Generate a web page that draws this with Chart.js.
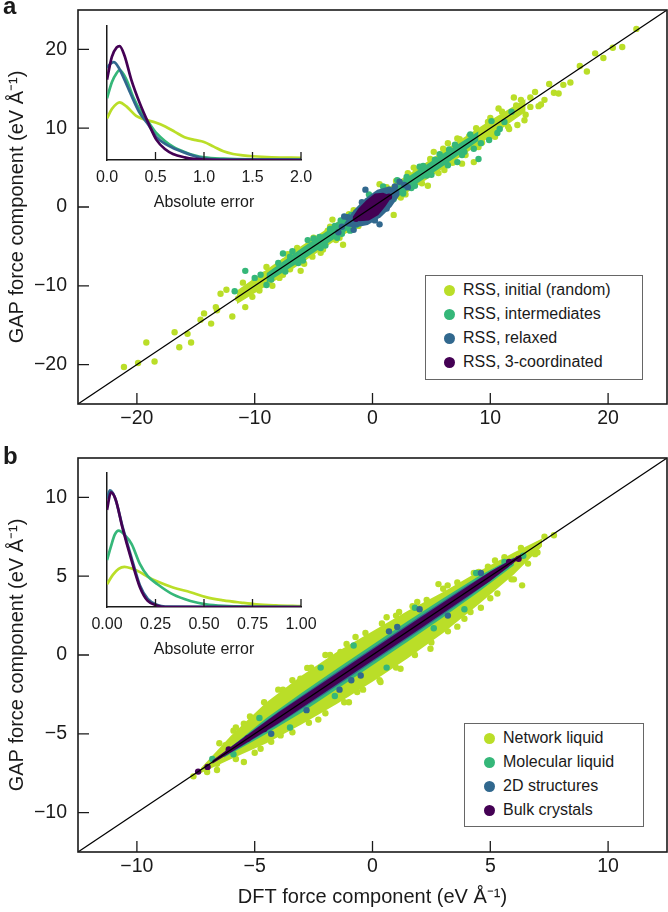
<!DOCTYPE html>
<html>
<head>
<meta charset="utf-8">
<script src="https://cdn.jsdelivr.net/npm/chart.js@4.4.0/dist/chart.umd.min.js"></script>
<style>
body{margin:0;background:#fff;font-family:"Liberation Sans",Arial,sans-serif;color:#1a1a1a}
#wrap{position:relative;width:668px;height:912px;overflow:hidden;background:#fff}
canvas{position:absolute}
.lbl{position:absolute;font-weight:bold;font-size:24px;line-height:1}
.legend{position:absolute;border:1.2px solid #666;background:#fff;font-size:16px}
.legend div{position:absolute;white-space:nowrap;line-height:18px}
.legend span{position:absolute;width:11px;height:11px;border-radius:50%}
</style>
</head>
<body>
<div id="wrap">
  <canvas id="ca" width="679" height="455" style="left:0;top:-15px"></canvas>
  <canvas id="cb" width="679" height="479" style="left:0;top:433px"></canvas>
  <canvas id="ia" width="250" height="200" style="left:80px;top:16px"></canvas>
  <canvas id="ib" width="250" height="200" style="left:80px;top:463px"></canvas>
  <div class="lbl" style="left:3px;top:-6px">a</div>
  <div class="lbl" style="left:3px;top:444px">b</div>
  <div class="legend" id="legA" style="left:425px;top:275px;width:216px;height:103px"></div>
  <div class="legend" id="legB" style="left:464px;top:723px;width:178px;height:102px"></div>
</div>
<script>
// NAMES / COLOURS / TICKS
const namesA=["RSS, initial (random)","RSS, intermediates","RSS, relaxed","RSS, 3-coordinated"];
const namesB=["Network liquid","Molecular liquid","2D structures","Bulk crystals"];
const colors=["#bade28","#35b779","#31688e","#440154"];
const ticksA=[-20,-10,0,10,20];
const ticksB=[-10,-5,0,5,10];
const insetTicksA=[0,0.5,1,1.5,2];
const insetTicksB=[0,0.25,0.5,0.75,1];
const diagA=[-25,25];
const diagB=[-12.5,12.5];

// PANEL A : scatter (DFT, GAP)
const aInitialPts=[[-21.1,-20.3],[-19.9,-19.8],[-18.5,-19.6],[-19.2,-17.2],[-16.8,-15.9],[-15.7,-16.1],[-16.4,-17.8],[-15.4,-17.2],[-14.6,-14.3],[-14.3,-13.5],[-13.7,-14.8],[-13.3,-12.7],[-13.2,-13.1],[-11.9,-13.9],[-12.4,-10.5],[-12.9,-11.0],[-11.4,-11.6],[-10.8,-12.7],[-10.5,-10.2],[-10.0,-9.4],[-9.6,-10.6],[-9.2,-8.6],[-8.8,-9.5],[-8.3,-7.9],[-7.9,-9.0],[-7.5,-6.9],[-7.0,-7.9],[-6.6,-6.0],[-6.1,-8.1],[-6.0,-7.0],[-5.5,-5.2],[-5.1,-6.3],[-4.6,-4.1],[-4.2,-5.4],[-3.4,-1.6],[-3.1,-4.2],[-2.5,-4.8],[-3.8,-3.0],[-2.2,-2.9],[-1.6,-0.4],[1.8,-1.0],[0.6,2.9],[2.4,1.2],[3.0,4.3],[3.7,4.5],[4.7,2.7],[5.2,7.0],[6.1,4.7],[6.4,8.1],[7.2,8.7],[7.6,5.5],[8.6,5.7],[8.2,9.0],[9.3,8.2],[9.8,10.8],[10.2,9.1],[10.7,12.5],[11.5,10.2],[12.0,13.9],[12.2,12.9],[12.3,10.4],[12.9,11.0],[13.4,13.9],[13.4,12.7],[14.1,12.8],[14.6,13.6],[15.4,14.5],[16.2,15.5],[16.8,15.8],[17.6,17.9],[18.2,17.2],[18.9,19.5],[19.6,18.9],[20.4,20.2],[21.2,20.3],[22.4,22.6],
  [-11.0,-9.6],[-10.2,-11.4],[-9.0,-7.6],[-8.5,-10.0],[-7.6,-8.6],[-7.2,-6.0],[-6.4,-5.2],[-5.8,-7.2],[-5.0,-3.9],[-4.4,-5.8],[-3.6,-2.5],[-2.8,-3.9],[-2.0,-0.9],[-1.2,-2.4],[0.8,-0.4],[1.2,2.5],[2.0,3.3],[2.8,1.6],[3.5,5.0],[4.2,3.0],[4.9,6.1],[5.6,4.3],[6.0,7.4],[6.8,5.6],[7.4,8.6],[7.9,6.6],[8.8,10.0],[9.0,7.6],[10.0,11.3],[10.4,8.9],[11.0,12.1],[11.6,9.9],[12.6,13.6],[13.0,11.7],[13.8,14.6],[14.3,13.0],[15.0,15.6],[15.8,14.4]];
const aInitialUpper=[[-11.5,-10.6],[-8,-6.9],[-5,-3.9],[-2,-0.9],[1,2.1],[4,5.1],[7,8.1],[10,11.0],[13,13.7]];
const aInitialLower=[[-11.5,-12.3],[-8,-9.1],[-5,-6.1],[-2,-3.1],[1,-0.1],[4,2.9],[7,5.9],[10,8.9],[13,12.1]];
const aInterPts=[[-11.7,-10.7],[-10.8,-8.1],[-9.5,-8.6],[-8.6,-9.2],[-7.6,-5.9],[-7.0,-6.3],[-6.3,-7.1],[-5.5,-4.2],[-4.5,-3.8],[-4.0,-4.9],[-3.2,-2.4],[-2.6,-3.4],[-1.8,-1.0],[1.4,2.2],[2.1,3.4],[2.6,1.9],[3.3,2.4],[4.0,5.1],[4.6,4.0],[5.3,6.0],[6.2,5.7],[6.5,7.3],[7.2,5.7],[7.8,7.0],[8.6,7.4],[9.0,6.1],[9.9,8.5],[10.6,9.4],[11.2,10.8],
  [-10.0,-9.0],[-9.0,-9.9],[-8.0,-7.1],[-7.4,-8.2],[-6.8,-5.6],[-5.9,-6.8],[-5.0,-4.0],[-4.4,-5.2],[-3.6,-2.8],[-3.0,-3.9],[-2.3,-1.5],[-1.4,-2.3],[1.0,1.8],[1.8,1.0],[2.9,3.8],[3.6,2.7],[4.3,5.2],[5.0,4.1],[5.7,6.7],[6.4,5.3],[7.0,7.9],[7.6,6.6],[8.3,9.2],[9.2,8.1],[10.1,10.9],[10.8,9.9],[11.8,12.1],
  [-2.7,-1.7],[-2.9,-2.3],[2.9,3.5],[2.6,1.7],[-1.9,-3.0],[0.9,2.6],[-0.3,1.6],[-3.3,-3.2]];
const aInterUpper=[[-9,-8.4],[-6,-5.2],[-3,-2.2],[0,0.8],[3,3.8],[6,6.8],[9,9.6]];
const aInterLower=[[-9,-9.6],[-6,-6.8],[-3,-3.8],[0,-0.8],[3,2.2],[6,5.2],[9,8.4]];
const aRelaxedPts=[[-0.6,2.2],[0.6,-2.2],[-2.6,-2.5],[2.7,2.8],[-2.1,-1.3],[1.9,2.6],[-2.9,-3.2],[-1.6,-2.9],[-2.4,-1.2],[2.3,3.2],[1.2,-0.2],[3.0,2.5],[-0.9,0.6],[0.2,-1.7]];
const aRelaxedUpper=[[-2.4,-2.1],[-1.6,-0.4],[-0.6,1.1],[0.4,2.2],[1.4,2.6],[2.3,2.2]];
const aRelaxedLower=[[-2.4,-2.4],[-1.5,-2.6],[-0.4,-2.3],[0.7,-1.3],[1.6,0.0],[2.3,1.5]];
const a3coordPts=[[-1.4,-1.5],[1.4,1.3]];
const a3coordUpper=[[-1.7,-1.3],[-1.2,-0.2],[-0.5,0.9],[0.2,1.7],[0.9,1.8],[1.6,1.4]];
const a3coordLower=[[-1.7,-1.3],[-1.1,-1.8],[-0.3,-1.7],[0.5,-1.0],[1.1,0.1],[1.6,1.2]];

// PANEL B : scatter
const bNetworkPts=[[6.35,4.42],[5.43,5.79],[4.51,5.27],[3.19,4.42],[4.16,2.73],[2.46,0.40],[2.04,0.82],[1.13,2.73],[1.9,3.36],[-0.72,1.14],[-1.36,0.19],[-2.77,-0.82],[-3.06,-1.5],[-4.75,-3.72],[-5.46,-4.36],[-6.24,-5.73],[-7.02,-7.42],[-0.65,-2.35],[0.34,-1.71],[1.19,-0.87],[-4.75,-5.95],[-3.9,-5.1],[-5.46,-6.79],[7.3,7.5],[7.7,7.6],[6.6,6.4],[5.9,4.8],[3.6,1.8],[2.8,4.5],[-2.0,0.0],[-3.8,-2.2],[0.6,2.4],[-1.0,-3.0],[-2.3,-4.1],[5.0,3.6],[-5.9,-4.8],[-6.6,-6.9],[5.2,6.0],[6.9,6.4],[-7.6,-7.7],
  [-6.5,-5.6],[-5.8,-4.6],[-5.2,-3.9],[-4.6,-3.0],[-4.0,-2.2],[-3.4,-1.6],[-2.6,-0.8],[-1.8,0.0],[-1.1,0.7],[-0.3,1.4],[0.4,2.0],[1.0,2.5],[1.7,3.1],[2.3,3.5],[3.0,4.2],[3.6,4.6],[4.3,5.2],[4.9,5.6],[5.6,6.2],[6.3,6.8],
  [-6.6,-7.3],[-5.8,-6.6],[-5.0,-6.2],[-4.3,-5.5],[-3.4,-4.9],[-2.7,-4.3],[-2.0,-3.7],[-1.2,-3.0],[-0.4,-2.2],[0.3,-1.6],[1.0,-0.8],[1.8,0.0],[2.5,0.8],[3.2,1.5],[3.9,2.3],[4.6,3.0],[5.3,3.9],[6.0,4.8],[6.6,5.8],[7.0,6.5]];
const bNetworkUpper=[[-7.3,-7.2],[-6,-5.1],[-4.5,-3.0],[-3,-1.3],[-1.5,0.2],[0,1.5],[1.5,2.8],[3,4.0],[4.5,5.3],[6,6.5],[7.2,7.4]];
const bNetworkLower=[[-7.3,-7.5],[-6,-6.6],[-4.5,-5.6],[-3,-4.4],[-1.5,-3.1],[0,-1.7],[1.5,-0.2],[3,1.4],[4.5,3.2],[6,5.1],[7.2,6.9]];
const bMolecularPts=[[-6.8,-6.6],[-5.9,-6.3],[5.6,5.9],[6.4,6.3],[-2.2,-0.8],[1.8,3.0],[0.6,-0.8],[-3.5,-4.6],[3.9,2.9],[-0.8,0.6],[-4.8,-4.0],[2.6,1.7],[-1.6,-2.6],[4.4,5.2]];
const bMolecularUpper=[[-6.3,-6.2],[-4.5,-4.0],[-3,-2.4],[-1.5,-0.85],[0,0.65],[1.5,2.15],[3,3.6],[4.5,5.0],[6,6.2]];
const bMolecularLower=[[-6.3,-6.5],[-4.5,-5.0],[-3,-3.65],[-1.5,-2.15],[0,-0.65],[1.5,0.85],[3,2.4],[4.5,4.0],[6,5.7]];
const b2dPts=[[1.05,1.78],[0.7,1.5],[-0.5,-1.3],[-0.9,-1.6],[-1.4,-2.2],[2.0,2.9],[-2.8,-3.5],[3.2,2.5],[-4.3,-5.0],[4.6,5.2]];
const b2dUpper=[[-6,-5.8],[-4,-3.6],[-2,-1.55],[0,0.45],[2,2.45],[4,4.4],[5.8,6.0]];
const b2dLower=[[-6,-6.2],[-4,-4.4],[-2,-2.45],[0,-0.45],[2,1.55],[4,3.6],[5.8,5.6]];
const bBulkPts=[[-7.0,-7.1],[-6.1,-6.0],[-5.3,-5.3],[-4.6,-4.7],[5.8,5.9],[6.2,6.1],[-7.4,-7.4]];
const bBulkUpper=[[-6.8,-6.7],[-4,-3.65],[-1,-0.65],[2,2.35],[5,5.3],[6.3,6.4]];
const bBulkLower=[[-6.8,-6.9],[-4,-4.35],[-1,-1.35],[2,1.65],[5,4.7],[6.3,6.2]];

// INSETS : absolute error distributions
const aErrInitial=[[0,0.31],[0.05,0.38],[0.1,0.42],[0.13,0.43],[0.2,0.4],[0.3,0.33],[0.4,0.3],[0.5,0.28],[0.6,0.25],[0.7,0.21],[0.8,0.17],[0.9,0.15],[1.0,0.135],[1.1,0.1],[1.2,0.065],[1.3,0.045],[1.4,0.035],[1.5,0.028],[1.7,0.02],[2.0,0.016]];
const aErrInter=[[0,0.46],[0.05,0.58],[0.1,0.65],[0.13,0.67],[0.2,0.6],[0.27,0.47],[0.35,0.36],[0.43,0.28],[0.51,0.2],[0.6,0.14],[0.68,0.1],[0.8,0.06],[0.9,0.035],[1.0,0.02],[1.2,0.01],[1.5,0.005],[2.0,0.004]];
const aErrRelaxed=[[0,0.69],[0.04,0.72],[0.07,0.73],[0.12,0.69],[0.18,0.6],[0.24,0.5],[0.33,0.36],[0.43,0.26],[0.51,0.17],[0.6,0.12],[0.68,0.09],[0.8,0.055],[0.9,0.03],[1.0,0.012],[1.2,0.004],[2.0,0.002]];
const aErr3coord=[[0,0.6],[0.05,0.77],[0.1,0.84],[0.13,0.85],[0.18,0.78],[0.25,0.6],[0.34,0.42],[0.43,0.27],[0.51,0.15],[0.6,0.08],[0.68,0.045],[0.8,0.02],[0.9,0.008],[1.0,0.003],[1.2,0],[2.0,0]];
const bErrNetwork=[[0,0.17],[0.03,0.24],[0.06,0.285],[0.09,0.3],[0.13,0.285],[0.17,0.26],[0.21,0.225],[0.26,0.19],[0.34,0.146],[0.43,0.11],[0.51,0.074],[0.6,0.05],[0.69,0.033],[0.77,0.02],[0.87,0.012],[1.0,0.006]];
const bErrMolecular=[[0,0.35],[0.02,0.45],[0.04,0.54],[0.06,0.57],[0.09,0.54],[0.127,0.47],[0.17,0.32],[0.21,0.23],[0.26,0.17],[0.34,0.094],[0.43,0.045],[0.51,0.02],[0.6,0.008],[0.75,0.002],[1.0,0]];
const bErr2d=[[0,0.81],[0.015,0.87],[0.04,0.82],[0.08,0.6],[0.128,0.36],[0.17,0.16],[0.21,0.06],[0.26,0.015],[0.3,0.003],[1.0,0]];
const bErrBulk=[[0,0.725],[0.02,0.855],[0.045,0.8],[0.08,0.59],[0.128,0.34],[0.17,0.146],[0.21,0.045],[0.26,0.01],[0.3,0],[1.0,0]];

const FONT='"Liberation Sans", Arial, sans-serif';
const INK='#1a1a1a';
const toXY=a=>a.map(p=>({x:p[0],y:p[1]}));
const fmt=v=>String(v).replace('-','\u2212');

// frame + inward ticks for main panels
const framePlugin={
  id:'frame',
  afterDatasetsDraw(c){
    const {ctx,chartArea:a,scales:{x,y}}=c;
    ctx.save();
    ctx.strokeStyle=INK;ctx.lineWidth=1.6;
    ctx.strokeRect(a.left,a.top,a.right-a.left,a.bottom-a.top);
    ctx.beginPath();ctx.lineWidth=1.3;
    x.ticks.forEach(t=>{const p=x.getPixelForValue(t.value);ctx.moveTo(p,a.bottom);ctx.lineTo(p,a.bottom-11);});
    y.ticks.forEach(t=>{const p=y.getPixelForValue(t.value);ctx.moveTo(a.left,p);ctx.lineTo(a.left+11,p);});
    ctx.stroke();
    ctx.restore();
  }
};

// inward ticks for insets
const insetTicks={
  id:'insetTicks',
  afterDraw(c){
    const {ctx,chartArea:a,scales:{x}}=c;
    ctx.save();ctx.strokeStyle=INK;ctx.lineWidth=1.3;ctx.beginPath();
    x.ticks.forEach(t=>{if(t.value===x.min)return;const p=x.getPixelForValue(t.value);ctx.moveTo(p,a.bottom);ctx.lineTo(p,a.bottom-8);});
    ctx.stroke();ctx.restore();
  }
};

function mainChart(id,groups,diag,ticks,xTitle,xHeight){
  const ds=[{data:diag.map(v=>({x:v,y:v})),borderColor:'#000',borderWidth:1.2,pointRadius:0,order:0,fill:false}];
  groups.forEach((g,i)=>{
    const ord=4-i;
    ds.push({data:toXY(g.upper),showLine:true,borderWidth:0,pointRadius:0,backgroundColor:colors[i],fill:'+1',order:ord});
    ds.push({data:toXY(g.lower),showLine:true,borderWidth:0,pointRadius:0,fill:false,order:ord});
    ds.push({data:toXY(g.pts),showLine:false,pointRadius:3.2,pointBorderWidth:0,pointBackgroundColor:colors[i],backgroundColor:colors[i],fill:false,order:ord});
  });
  const lim=diag[1];
  const axisCommon={
    type:'linear',min:-lim,max:lim,
    afterBuildTicks:s=>{s.ticks=ticks.map(v=>({value:v}));},
    grid:{display:false,drawTicks:false},
    border:{display:false}
  };
  return new Chart(document.getElementById(id),{
    type:'line',
    data:{datasets:ds},
    options:{
      responsive:false,animation:false,events:[],devicePixelRatio:1,
      layout:{padding:{top:25,right:12,left:0,bottom:0}},
      plugins:{legend:{display:false},tooltip:{enabled:false}},
      scales:{
        x:Object.assign({},axisCommon,{
          afterFit:s=>{s.height=xHeight;},
          ticks:{padding:3,color:INK,font:{size:19.5,family:FONT},callback:v=>fmt(v),autoSkip:false,maxRotation:0},
          title:{display:!!xTitle,text:xTitle||'',color:INK,font:{size:20,family:FONT},padding:{bottom:3}}
        }),
        y:Object.assign({},axisCommon,{
          afterFit:s=>{s.width=78;},
          ticks:{padding:11,color:INK,font:{size:19.5,family:FONT},callback:v=>fmt(v),autoSkip:false},
          title:{display:true,text:'GAP force component (eV \u00c5\u207b\u00b9)',color:INK,font:{size:20,family:FONT},padding:{top:5}}
        })
      }
    },
    plugins:[framePlugin]
  });
}

function insetChart(id,curves,ticks,dec){
  return new Chart(document.getElementById(id),{
    type:'line',
    data:{datasets:curves.map((c,i)=>({data:toXY(c),borderColor:colors[i],borderWidth:2.7,pointRadius:0,cubicInterpolationMode:'monotone',fill:false,order:4-i}))},
    options:{
      responsive:false,animation:false,events:[],devicePixelRatio:1,
      layout:{padding:{left:27,right:29,top:10,bottom:0}},
      plugins:{legend:{display:false},tooltip:{enabled:false}},
      scales:{
        x:{type:'linear',min:ticks[0],max:ticks[ticks.length-1],
          afterBuildTicks:s=>{s.ticks=ticks.map(v=>({value:v}));},
          afterFit:s=>{s.height=56;},
          grid:{display:false,drawTicks:false},
          border:{display:true,color:INK,width:1.5},
          ticks:{padding:8,color:INK,font:{size:16,family:FONT},callback:v=>Number(v).toFixed(dec),autoSkip:false,maxRotation:0},
          title:{display:true,text:'Absolute error',color:INK,font:{size:16,family:FONT},padding:{bottom:3.5}}
        },
        y:{type:'linear',min:0,max:1,
          afterFit:s=>{s.width=0;},
          grid:{display:false,drawTicks:false},
          border:{display:true,color:INK,width:1.5},
          ticks:{display:false}
        }
      }
    },
    plugins:[insetTicks]
  });
}

mainChart('ca',[
  {pts:aInitialPts,upper:aInitialUpper,lower:aInitialLower},
  {pts:aInterPts,upper:aInterUpper,lower:aInterLower},
  {pts:aRelaxedPts,upper:aRelaxedUpper,lower:aRelaxedLower},
  {pts:a3coordPts,upper:a3coordUpper,lower:a3coordLower}
],diagA,ticksA,null,36);

mainChart('cb',[
  {pts:bNetworkPts,upper:bNetworkUpper,lower:bNetworkLower},
  {pts:bMolecularPts,upper:bMolecularUpper,lower:bMolecularLower},
  {pts:b2dPts,upper:b2dUpper,lower:b2dLower},
  {pts:bBulkPts,upper:bBulkUpper,lower:bBulkLower}
],diagB,ticksB,'DFT force component (eV \u00c5\u207b\u00b9)',60);

insetChart('ia',[aErrInitial,aErrInter,aErrRelaxed,aErr3coord],insetTicksA,1);
insetChart('ib',[bErrNetwork,bErrMolecular,bErr2d,bErrBulk],insetTicksB,2);

// LEGENDS
function legend(id,names,dx){
  const el=document.getElementById(id);
  names.forEach((n,i)=>{
    const row=document.createElement('div');
    row.style.top=(5+i*24)+'px';row.style.left=dx+'px';
    row.textContent=n;
    el.appendChild(row);
    const dot=document.createElement('span');
    dot.style.background=colors[i];
    dot.style.top=(9+i*24)+'px';dot.style.left=(dx-19)+'px';
    el.appendChild(dot);
  });
}
legend('legA',namesA,37);
legend('legB',namesB,38);
</script>
</body>
</html>
